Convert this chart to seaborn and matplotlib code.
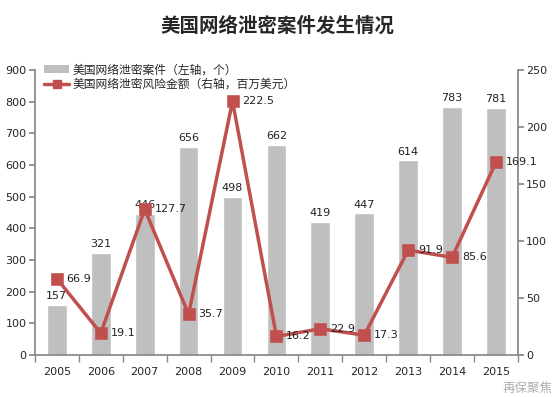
import matplotlib
matplotlib.use("Agg")
import matplotlib.pyplot as plt
import seaborn as sns
import pandas as pd
from matplotlib.patches import Patch
from matplotlib.lines import Line2D

years = ["2005", "2006", "2007", "2008", "2009", "2010", "2011", "2012", "2013", "2014", "2015"]
cases = [157, 321, 446, 656, 498, 662, 419, 447, 614, 783, 781]
amount = [66.9, 19.1, 127.7, 35.7, 222.5, 16.2, 22.9, 17.3, 91.9, 85.6, 169.1]

sns.set_theme(style="white")
plt.rcParams['font.family'] = ['DejaVu Sans', 'Noto Sans CJK SC']

df = pd.DataFrame({"year": years, "cases": cases, "amount": amount})

fig = plt.figure(figsize=(5.54, 3.97), dpi=100)
ax = fig.add_axes([0.063, 0.106, 0.872, 0.718])
bar_c = "#BFBFBF"
red = "#C0504D"
sns.barplot(data=df, x="year", y="cases", color=bar_c, width=0.45, ax=ax, saturation=1)
ax.set_ylim(0, 900)
ax.set_yticks(range(0, 901, 100))
ax.set_xlim(-0.5, len(years) - 0.5)
ax.set_xlabel("")
ax.set_ylabel("")
for i, v in enumerate(cases):
    ax.text(i, v + 12, str(v), ha="center", va="bottom", fontsize=8, color="#222222")

ax2 = ax.twinx()
sns.pointplot(data=df, x="year", y="amount", color=red, markers="s", linestyles="-",
              ax=ax2, markersize=6.5, linewidth=2.5)
ax2.set_ylim(0, 250)
ax2.set_yticks(range(0, 251, 50))
ax2.set_xlim(-0.5, len(years) - 0.5)
ax2.set_ylabel("")
ax2.set_xlabel("")
for i, v in enumerate(amount):
    ax2.text(i + 0.22, v, f"{v}", ha="left", va="center", fontsize=8, color="#222222")

for a in (ax, ax2):
    a.spines["top"].set_visible(False)
    a.spines["left"].set_color("#888888")
    a.spines["right"].set_color("#888888")
    a.spines["bottom"].set_color("#888888")
ax2.spines["bottom"].set_visible(False)
ax.spines["right"].set_visible(False)
ax2.spines["left"].set_visible(False)

ax.tick_params(axis="y", labelsize=8, length=4, direction="out", left=True, color="#888888", pad=2)
ax2.tick_params(axis="y", labelsize=8, length=4, direction="out", right=True, color="#888888", pad=2)
ax.set_xticks(range(len(years)))
ax.set_xticklabels(years, fontsize=8)
ax.tick_params(axis="x", length=0, pad=9)
ax.set_xticks([i - 0.5 for i in range(len(years) + 1)], minor=True)
ax.tick_params(axis="x", which="minor", length=5, bottom=True, color="#888888", direction="out")

handles = [Patch(facecolor=bar_c, edgecolor="none"),
           Line2D([0], [0], color=red, lw=2.5, marker="s", markersize=6)]
labels = ["美国网络泄密案件（左轴，个）", "美国网络泄密风险金额（右轴，百万美元）"]
ax.legend(handles, labels, loc="upper left", bbox_to_anchor=(0.01, 1.04), frameon=False,
          fontsize=8.5, handlelength=2.1, handletextpad=0.25, labelspacing=0.15, borderaxespad=0)

fig.text(0.5, 0.935, "美国网络泄密案件发生情况", ha="center", va="center", fontsize=14, fontweight="bold")
fig.text(0.997, 0.022, "再保聚焦", ha="right", va="center", fontsize=9, color="#999999", alpha=0.8)

fig.savefig("out.png", dpi=100)
